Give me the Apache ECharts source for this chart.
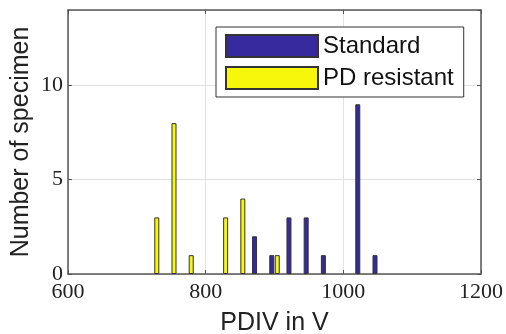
<!DOCTYPE html>
<html>
<head>
<meta charset="utf-8">
<script src="https://cdn.jsdelivr.net/npm/echarts@6/dist/echarts.min.js"></script>
<style>
  html, body { margin: 0; padding: 0; background: #fff; }
  #chart { width: 506px; height: 334px; }
</style>
</head>
<body>
<div id="chart"></div>
<script>
// histogram bins (V) and counts
const standardBins = [875, 900, 925, 950, 975, 1025, 1050]
const standardCounts = [2, 1, 3, 3, 1, 9, 1]
const resistantBins = [725, 750, 775, 825, 850, 900]
const resistantCounts = [3, 8, 1, 3, 4, 1]
const xTicks = [600, 800, 1000, 1200]
const yTicks = [0, 5, 10]

const chart = echarts.init(document.getElementById('chart'))

const pairs = (xs, ys) => xs.map((x, i) => [x, ys[i]])

const frameColor = '#555'
const tickFont = { fontFamily: 'Liberation Serif', fontSize: 22, color: '#222' }

// mirrored axis (top / right) only draws the box line and inner ticks
const mirrorAxis = (pos, min, max, interval) => ({
  type: 'value',
  position: pos,
  min: min,
  max: max,
  interval: interval,
  axisLine: { show: true, onZero: false, lineStyle: { color: frameColor, width: 1.5 } },
  axisTick: { show: true, inside: true, length: 4, lineStyle: { color: frameColor } },
  axisLabel: { show: false },
  splitLine: { show: false }
})

const option = {
  backgroundColor: '#fff',
  animation: false,
  grid: { left: 68, right: 25, top: 10, bottom: 60, outerBoundsMode: 'none' },
  legend: {
    orient: 'vertical',
    left: 216,
    top: 27,
    padding: [7, 10, 7, 9],
    itemWidth: 92,
    itemHeight: 22,
    itemGap: 8,
    borderColor: '#333',
    borderWidth: 1,
    backgroundColor: '#fff',
    icon: 'rect',
    textStyle: { fontFamily: 'Liberation Sans', fontSize: 24, color: '#111', lineHeight: 22 },
    data: ['Standard', 'PD resistant']
  },
  xAxis: [
    {
      type: 'value',
      min: xTicks[0],
      max: xTicks[xTicks.length - 1],
      interval: 200,
      name: 'PDIV in V',
      nameLocation: 'middle',
      nameGap: 37,
      nameMoveOverlap: false,
      nameTextStyle: { fontFamily: 'Liberation Sans', fontSize: 25, color: '#222' },
      axisLine: { show: true, onZero: false, lineStyle: { color: frameColor, width: 1.5 } },
      axisTick: { show: true, inside: true, length: 4, lineStyle: { color: frameColor } },
      axisLabel: Object.assign({ margin: 7, formatter: v => String(v) }, tickFont),
      splitLine: { show: true, lineStyle: { color: '#e2e2e2' } }
    },
    mirrorAxis('top', xTicks[0], xTicks[xTicks.length - 1], 200)
  ],
  yAxis: [
    {
      type: 'value',
      min: 0,
      max: 14,
      interval: 5,
      name: 'Number of specimen',
      nameLocation: 'middle',
      nameGap: 34,
      nameMoveOverlap: false,
      nameTextStyle: { fontFamily: 'Liberation Sans', fontSize: 25, color: '#222' },
      axisLine: { show: true, onZero: false, lineStyle: { color: frameColor, width: 1.5 } },
      axisTick: { show: true, inside: true, length: 4, lineStyle: { color: frameColor } },
      axisLabel: Object.assign({
        margin: 5,
        showMaxLabel: false,
        formatter: v => (yTicks.includes(v) ? String(v) : '')
      }, tickFont),
      splitLine: { show: true, lineStyle: { color: '#e2e2e2' } }
    },
    mirrorAxis('right', 0, 14, 5)
  ],
  series: [
    {
      name: 'Standard',
      type: 'bar',
      xAxisIndex: 0,
      yAxisIndex: 0,
      barWidth: 5,
      barGap: '10%',
      itemStyle: { color: '#37299e', borderColor: '#333', borderWidth: 1 },
      data: pairs(standardBins, standardCounts)
    },
    {
      name: 'PD resistant',
      type: 'bar',
      xAxisIndex: 0,
      yAxisIndex: 0,
      barWidth: 5,
      barGap: '10%',
      itemStyle: { color: '#f7f70c', borderColor: '#333', borderWidth: 1 },
      data: pairs(resistantBins, resistantCounts)
    }
  ]
}

chart.setOption(option)
</script>
</body>
</html>
